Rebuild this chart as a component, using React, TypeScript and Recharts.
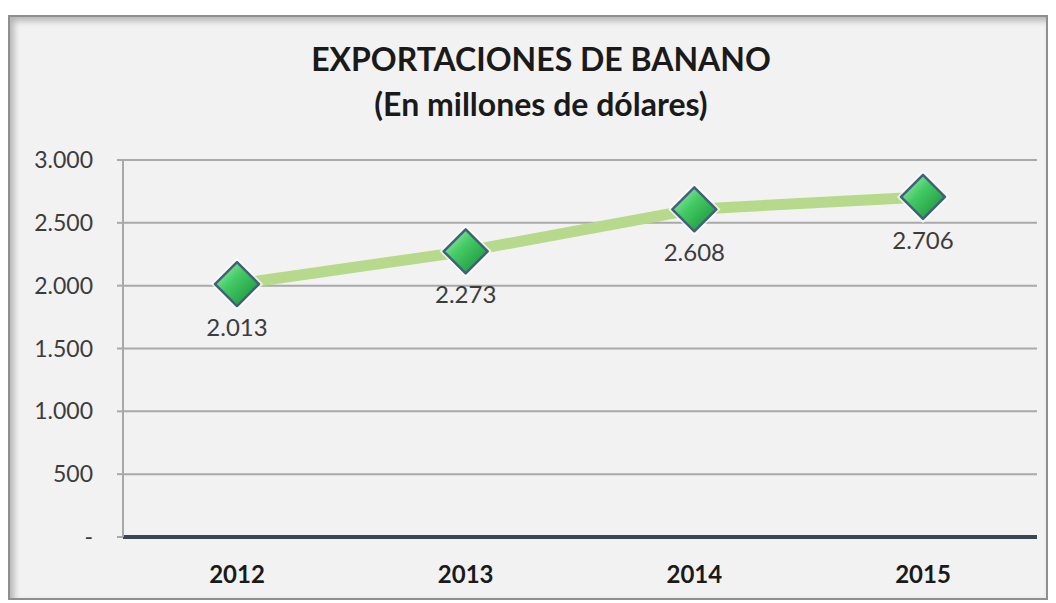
import { LineChart, Line, XAxis, YAxis, CartesianGrid, LabelList } from 'recharts'

const years = ['2012', '2013', '2014', '2015']
const exports = [2013, 2273, 2608, 2706]
const exportLabels = ['2.013', '2.273', '2.608', '2.706']
const yTicks = [0, 500, 1000, 1500, 2000, 2500, 3000]
const yTickLabels = ['-', '500', '1.000', '1.500', '2.000', '2.500', '3.000']

const data = years.map((y, i) => ({ year: y, value: exports[i], label: exportLabels[i] }))

const FONT = 'Lato, "Open Sans", sans-serif'

function Diamond(props: any) {
  const { cx, cy } = props
  if (cx == null || cy == null) return null
  const r = 22
  const pts = `${cx},${cy - r} ${cx + r},${cy} ${cx},${cy + r} ${cx - r},${cy}`
  return (
    <g>
      <polygon points={pts} fill="none" stroke="#ffffff" strokeOpacity={0.7} strokeWidth={6} />
      <polygon points={pts} fill="url(#gemFill)" stroke="#40607c" strokeWidth={2.5} strokeLinejoin="round" />
    </g>
  )
}

function BelowLabel(props: any) {
  const { x, y, value } = props
  return (
    <text x={x} y={y + 52} textAnchor="middle" fontSize={24} fill="#3c3c3c" fontFamily={FONT}>
      {value}
    </text>
  )
}

export default function App() {
  return (
    <div
      style={{
        position: 'relative',
        width: 1040,
        height: 585,
        marginTop: 7,
        background: '#f2f2f2',
        boxSizing: 'border-box',
        border: '2px solid #8f8f8f',
        boxShadow: 'inset 4px 4px 6px rgba(0,0,0,0.25)',
      }}
    >
      <div
        style={{
          position: 'absolute',
          left: 0,
          width: 1062,
          top: 19,
          textAlign: 'center',
          fontFamily: FONT,
          fontWeight: 700,
          fontSize: 32,
          lineHeight: '45px',
          color: '#1a1a1a',
        }}
      >
        EXPORTACIONES DE BANANO
        <br />
        (En millones de dólares)
      </div>
      <div style={{ position: 'absolute', left: -2, top: -2 }}>
        <LineChart width={1040} height={585} data={data} margin={{ top: 145, right: 11, left: 0, bottom: 0 }}>
          <defs>
            <linearGradient id="gemFill" x1="0" y1="0" x2="1" y2="1">
              <stop offset="0%" stopColor="#b8f5c4" />
              <stop offset="40%" stopColor="#45cc66" />
              <stop offset="100%" stopColor="#138a32" />
            </linearGradient>
          </defs>
          <CartesianGrid vertical={false} stroke="#a9a9a9" strokeWidth={2} />
          <XAxis
            dataKey="year"
            height={63}
            padding={{ left: 114, right: 114 }}
            tickSize={0}
            tickMargin={29}
            axisLine={{ stroke: '#3a4556', strokeWidth: 4 }}
            tick={{ fontSize: 24, fontWeight: 700, fill: '#1a1a1a', fontFamily: FONT }}
          />
          <YAxis
            width={115}
            domain={[0, 3000]}
            ticks={yTicks}
            interval={0}
            tickSize={6}
            tickMargin={24}
            axisLine={{ stroke: '#a9a9a9', strokeWidth: 2 }}
            tickLine={{ stroke: '#a9a9a9', strokeWidth: 2 }}
            tick={{ fontSize: 23, fill: '#3c3c3c', fontFamily: FONT }}
            tickFormatter={(v: number) => yTickLabels[yTicks.indexOf(v)]}
          />
          <Line
            type="linear"
            dataKey="value"
            stroke="#b6d98c"
            strokeWidth={11}
            dot={<Diamond />}
            activeDot={false}
            isAnimationActive={false}
          >
            <LabelList dataKey="label" content={<BelowLabel />} />
          </Line>
        </LineChart>
      </div>
    </div>
  )
}
